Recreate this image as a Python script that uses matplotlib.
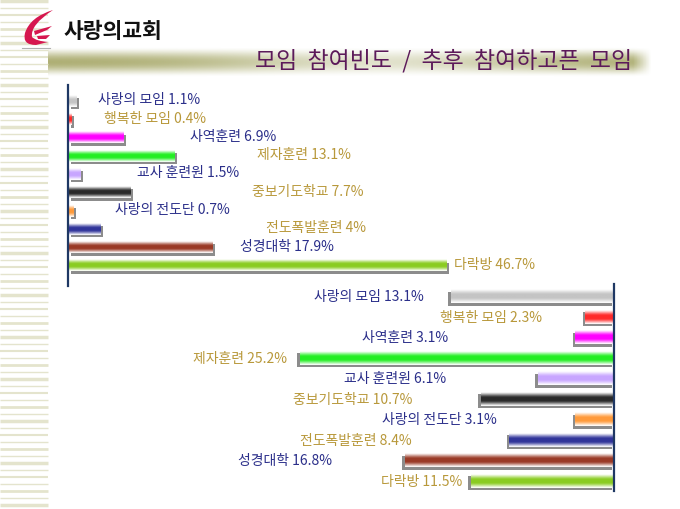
import numpy as np
import matplotlib.pyplot as plt
from matplotlib.path import Path
from matplotlib.patches import PathPatch
from matplotlib.colors import to_rgb
from matplotlib.transforms import offset_copy

plt.rcParams['font.family'] = ['Noto Sans CJK KR', 'DejaVu Sans']

# data
groups = ["사랑의 모임", "행복한 모임", "사역훈련", "제자훈련", "교사 훈련원",
          "중보기도학교", "사랑의 전도단", "전도폭발훈련", "성경대학", "다락방"]
freq = [1.1, 0.4, 6.9, 13.1, 1.5, 7.7, 0.7, 4, 17.9, 46.7]
wish = [13.1, 2.3, 3.1, 25.2, 6.1, 10.7, 3.1, 8.4, 16.8, 11.5]
bar_colors = ["#c4c4c4", "#ff2a2a", "#ff00ff", "#22ee22", "#c8a6ff",
              "#2a2a2a", "#ff9a3a", "#30349a", "#9a3a26", "#8acc22"]
label_colors = ["#2b2f8a", "#b8983a"] * 5

# label placement (layout, in axis units)
top_label_x = [3.7, 4.4, 15.1, 23.3, 8.5, 22.7, 5.8, 24.4, 21.2, 47.7]
bot_label_x = [15.3, 5.8, 13.3, 26.2, 13.5, 16.2, 9.4, 16.2, 22.6, 12.2]

W, H = 680, 510
fig = plt.figure(figsize=(6.8, 5.1), dpi=100)

# background decorations
bg = fig.add_axes([0, 0, 1, 1])
bg.set_xlim(0, W)
bg.set_ylim(H, 0)
bg.axis('off')

pat = [2.5, 1, 1.5, 1, 2, 1]
for i, y in enumerate(range(2, H, 7)):
    bg.plot([0, 48], [y, y], color="#e2e2c8", lw=pat[i % len(pat)], alpha=0.9,
            solid_capstyle='butt')

# title band
xs = np.linspace(0, 1, 400)
ys = np.linspace(0, 1, 40)
hprof = 0.95 - 0.6 * np.exp(-((xs - 0.55) / 0.28) ** 2)
hprof *= np.clip((1 - xs) / 0.03, 0, 1)
vprof = np.sin(np.pi * ys) ** 1.5
alpha = vprof[:, None] * hprof[None, :]
band = np.zeros((40, 400, 4))
band[..., :3] = to_rgb("#a9aa6c")
band[..., 3] = alpha
bg.imshow(band, extent=(48, 652, 78, 48), aspect='auto', zorder=1)
bg.text(632, 61, "모임  참여빈도  /  추후  참여하고픈  모임", ha='right', va='center',
        fontsize=16.5, color="#5c1a5a", zorder=3)

# logo
def shape(pts, **kw):
    verts = [p[1] for p in pts]
    codes = [p[0] for p in pts]
    bg.add_patch(PathPatch(Path(verts, codes), **kw))

M, C, L, Z = Path.MOVETO, Path.CURVE3, Path.LINETO, Path.CLOSEPOLY
red = "#d6174f"
shape([(M, (53, 11)), (C, (30, 18)), (C, (25, 34)), (C, (22, 46)), (C, (36, 46)),
       (L, (48, 43)), (C, (36, 42)), (C, (32, 38)), (C, (30, 26)), (C, (53, 11)),
       (Z, (53, 11))], fc=red, ec='none', zorder=3)
shape([(M, (34, 32)), (L, (52, 27)), (L, (47, 31)), (L, (35, 36)), (Z, (34, 32))],
      fc=red, ec='none', zorder=3)
shape([(M, (37, 37)), (L, (50, 36)), (L, (46, 40)), (L, (38, 40)), (Z, (37, 37))],
      fc=red, ec='none', zorder=3)
bg.plot([22, 50], [48.5, 48.5], color="#b0b0b0", lw=0.8)
bg.text(64, 31, "사랑의교회", ha='left', va='center', fontsize=15.5,
        fontweight='bold', color="#111111")


def gradient(color):
    t = np.linspace(0, 1, 30)
    a = np.sin(np.pi * t) ** 1.2
    a = np.clip(a * 1.1, 0, 1)
    c = np.array(to_rgb(color))
    img = (1 - a)[:, None] * np.ones(3) + a[:, None] * c
    return img[:, None, :]


def draw_bars(ax, values, h, dx):
    shadow_tr = offset_copy(ax.transData, fig=fig, x=dx, y=-2.5, units='dots')
    for i, (v, c) in enumerate(zip(values, bar_colors)):
        ax.barh(i, v, height=h, color="#8c8c8c", transform=shadow_tr, zorder=1)
        ax.imshow(gradient(c), extent=(0, v, i + h / 2, i - h / 2),
                  aspect='auto', zorder=2, interpolation='bilinear')


# top chart: participation frequency
ax1 = fig.add_axes([68 / W, (H - 287) / H, 486 / W, 201 / H])
ax1.patch.set_alpha(0)
draw_bars(ax1, freq, 0.62, 2.5)
for i, (g, v) in enumerate(zip(groups, freq)):
    ax1.text(top_label_x[i], i - 0.1, f"{g} {v}%", ha='left', va='center',
             fontsize=10, color=label_colors[i])
ax1.set_xlim(0, 60)
ax1.set_ylim(10.11, -0.88)
for s in ['top', 'right', 'bottom']:
    ax1.spines[s].set_visible(False)
ax1.spines['left'].set_color("#1f3864")
ax1.spines['left'].set_linewidth(1.6)
ax1.set_xticks([])
ax1.set_yticks([])

# bottom chart: wished participation
ax2 = fig.add_axes([240 / W, (H - 492) / H, 374 / W, 207 / H])
ax2.patch.set_alpha(0)
draw_bars(ax2, wish, 0.68, -2.5)
for i, (g, v) in enumerate(zip(groups, wish)):
    ax2.text(bot_label_x[i], i, f"{g} {v}%", ha='right', va='center',
             fontsize=10, color=label_colors[i])
ax2.set_xlim(30, 0)
ax2.set_ylim(9.51, -0.59)
for s in ['top', 'left', 'bottom']:
    ax2.spines[s].set_visible(False)
ax2.spines['right'].set_color("#1f3864")
ax2.spines['right'].set_linewidth(1.6)
ax2.set_xticks([])
ax2.set_yticks([])

fig.savefig("out.png", dpi=100)
